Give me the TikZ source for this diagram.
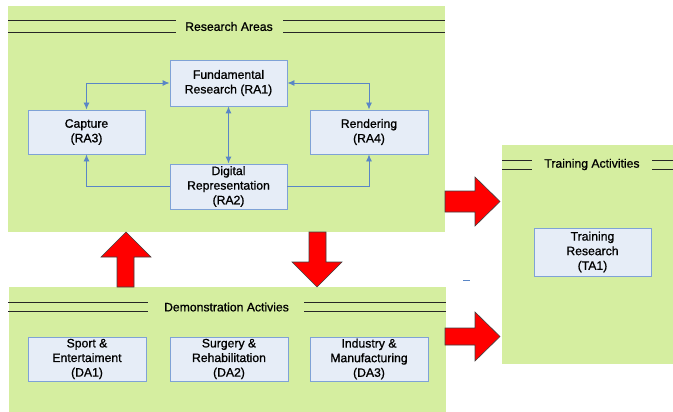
\documentclass[tikz,border=0pt]{standalone}
\usepackage{fontspec}
\setmainfont{Liberation Sans}
\newfontfamily\heavyfont[FakeBold=0.9]{Liberation Sans}
\usetikzlibrary{arrows.meta}
\definecolor{panelgreen}{HTML}{D5EEA0}
\definecolor{boxfill}{HTML}{E6EDF7}
\definecolor{boxline}{HTML}{7FA2D6}
\definecolor{connblue}{HTML}{5A86C6}
\tikzset{
  panel/.style={fill=panelgreen, draw=none},
  box/.style={draw=boxline, fill=boxfill, line width=0.9pt, inner sep=0pt, align=center,
    font=\heavyfont\fontsize{12.2}{14.6}\selectfont},
  ttl/.style={font=\heavyfont\fontsize{12.2}{14.6}\selectfont, inner sep=0pt},
  dline/.style={draw=black!85, line width=0.9pt},
  conn/.style={draw=connblue, line width=0.9pt},
  twoway/.style={conn, {Latex[length=7pt,width=6pt]}-{Latex[length=7pt,width=6pt]}},
  oneway/.style={conn, -{Latex[length=7pt,width=6pt]}},
  bigarrow/.style={fill=red, draw=black!75, line width=0.6pt, line join=miter}
}
\begin{document}
\begin{tikzpicture}[x=1pt,y=-1pt]
\useasboundingbox (0,0) rectangle (673,412);
% panels
\fill[panel] (8,6) rectangle (445,232);
\fill[panel] (9,287) rectangle (446,412);
\fill[panel] (502,145) rectangle (673,364);
% panel titles
\node[ttl] (tra) at (229,26.5) {Research Areas};
\draw[dline] (8,20.7) -- (176,20.7) (8,32) -- (176,32);
\draw[dline] (283,20.7) -- (445,20.7) (283,32) -- (445,32);
\node[ttl] (tda) at (226.5,307) {Demonstration Activies};
\draw[dline] (8,302.7) -- (148,302.7) (8,311.7) -- (148,311.7);
\draw[dline] (304,302.7) -- (446,302.7) (304,311.7) -- (446,311.7);
\node[ttl] (tta) at (592,164.5) {Training Activities};
\draw[dline] (502,160) -- (532,160) (502,169) -- (532,169);
\draw[dline] (652,160) -- (673,160) (652,169) -- (673,169);
% boxes
\node[box, minimum width=117pt, minimum height=46pt] (ra1) at (228.5,83) {Fundamental\\Research (RA1)};
\node[box, minimum width=117pt, minimum height=44pt] (ra3) at (86.5,132) {Capture\\(RA3)};
\node[box, minimum width=118pt, minimum height=44pt] (ra4) at (369,132) {Rendering\\(RA4)};
\node[box, minimum width=117pt, minimum height=45pt] (ra2) at (228.5,186.5) {Digital\\Representation\\(RA2)};
\node[box, minimum width=118pt, minimum height=44pt] (da1) at (87,359) {Sport \&\\Entertaiment\\(DA1)};
\node[box, minimum width=118pt, minimum height=44pt] (da2) at (229,359) {Surgery \&\\Rehabilitation\\(DA2)};
\node[box, minimum width=118pt, minimum height=44pt] (da3) at (369,359) {Industry \&\\Manufacturing\\(DA3)};
\node[box, minimum width=117pt, minimum height=48pt] (ta1) at (592.5,252) {Training\\Research\\(TA1)};
% connectors
\draw[twoway] (ra1.west) -| (ra3.north);
\draw[twoway] (ra1.east) -| (ra4.north);
\draw[twoway] (ra1.south) -- (ra2.north);
\draw[oneway] (ra2.west) -| (ra3.south);
\draw[oneway] (ra2.east) -| (ra4.south);
% small dash
\draw[connblue, line width=0.8pt] (463,280) -- (470,280);
% big red arrows
\draw[bigarrow] (445,191) -- (475,191) -- (475,177) -- (500,201.5) -- (475,226) -- (475,212) -- (445,212) -- cycle;
\draw[bigarrow] (445,328) -- (475,328) -- (475,312) -- (500,336.5) -- (475,361) -- (475,345) -- (445,345) -- cycle;
\draw[bigarrow] (117,287) -- (117,257) -- (101,257) -- (126,232) -- (151,257) -- (134,257) -- (134,287) -- cycle;
\draw[bigarrow] (309,232) -- (309,262) -- (292,262) -- (317,287) -- (342,262) -- (326,262) -- (326,232) -- cycle;
\end{tikzpicture}
\end{document}
